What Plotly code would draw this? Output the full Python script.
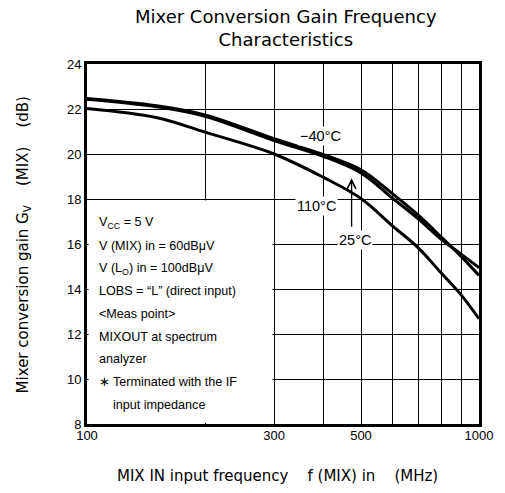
import plotly.graph_objects as go

# ---- data ----
freq_mhz = [100, 150, 200, 300, 400, 500, 600, 700, 800, 900, 1000]
gain_m40 = [22.47, 22.15, 21.74, 20.68, 19.98, 19.3, 18.25, 17.28, 16.32, 15.45, 14.6]
gain_25 = [22.43, 22.1, 21.68, 20.6, 19.9, 19.16, 18.05, 17.12, 16.22, 15.55, 14.95]
gain_110 = [22.02, 21.62, 20.97, 20.0, 18.97, 18.02, 16.82, 15.83, 14.72, 13.74, 12.68]

series_names = ["−40°C", "25°C", "110°C"]

x_tickvals = [100, 200, 300, 400, 500, 600, 700, 800, 900, 1000]
x_ticktext = ["100", "", "300", "", "500", "", "", "", "", "1000"]
y_tickvals = [8, 10, 12, 14, 16, 18, 20, 22, 24]

info_lines = [
    "V<sub>CC</sub> = 5 V",
    "V (MIX) in = 60dBμV",
    "V (L<sub>O</sub>) in = 100dBμV",
    "LOBS = “L” (direct input)",
    "&lt;Meas point&gt;",
    "MIXOUT at spectrum",
    "analyzer",
    "∗",
    "input impedance",
]
star_line = "Terminated with the IF"

title_text = "Mixer Conversion Gain Frequency<br>Characteristics"
GAP = "\u00a0" * 4
x_title = "MIX IN input frequency" + GAP + "f (MIX) in" + GAP + "(MHz)"
y_title = "Mixer conversion gain G<sub>V</sub>" + GAP + "(MIX)" + GAP + "(dB)"

FONT = "Liberation Sans, Arial, Helvetica, sans-serif"
WIDE = "DejaVu Sans, Liberation Sans, sans-serif"

fig = go.Figure()
for name, ys in zip(series_names, [gain_m40, gain_25, gain_110]):
    fig.add_trace(go.Scatter(
        x=freq_mhz, y=ys, name=name, mode="lines",
        line=dict(color="black", width=3, shape="spline", smoothing=1.0),
        showlegend=False, hoverinfo="skip",
    ))

# white panel behind the condition text (hides grid)
fig.add_shape(type="rect", xref="paper", yref="y", x0=0.004, x1=0.473, y0=8.05, y1=17.93,
              fillcolor="white", line=dict(width=0), layer="above")

annotations = []
# condition text lines
y0 = 16.93
step = 1.01
for i, t in enumerate(info_lines):
    xp = 0.0258
    if t == "input impedance":
        xp = 0.0618
    annotations.append(dict(x=xp, y=y0 - i * step, xref="paper", yref="y", text=t,
                            showarrow=False, xanchor="left", yanchor="middle",
                            font=dict(size=12.6, color="black", family=FONT)))
annotations.append(dict(x=0.0618, y=y0 - 7 * step, xref="paper", yref="y", text=star_line,
                        showarrow=False, xanchor="left", yanchor="middle",
                        font=dict(size=12.6, color="black", family=FONT)))

# temperature labels
label_pos = {"−40°C": (0.595, 20.79), "110°C": (0.585, 17.69), "25°C": (0.6825, 16.16)}
for name in series_names:
    xp, yv = label_pos[name]
    annotations.append(dict(x=xp, y=yv, xref="paper", yref="y", text=name, showarrow=False,
                            xanchor="center", yanchor="middle", bgcolor="white", borderpad=1,
                            font=dict(size=14.5, color="black", family=FONT)))
# arrow to 25°C curve
annotations.append(dict(x=0.675, y=18.92, xref="paper", yref="y", text="", showarrow=True,
                        ax=0, ay=50, arrowhead=5, arrowsize=1.3, arrowwidth=1.3,
                        arrowcolor="black"))

# title and axis titles
annotations.append(dict(x=0.5075, y=1.1, xref="paper", yref="paper", text=title_text,
                        showarrow=False, xanchor="center", yanchor="middle",
                        font=dict(size=18, color="black", family=WIDE)))
annotations.append(dict(x=0.485, y=-0.1436, xref="paper", yref="paper", text=x_title,
                        showarrow=False, xanchor="center", yanchor="middle",
                        font=dict(size=15, color="black", family=WIDE)))
annotations.append(dict(x=-0.1625, y=0.497, xref="paper", yref="paper", text=y_title,
                        showarrow=False, xanchor="center", yanchor="middle", textangle=-90,
                        font=dict(size=15, color="black", family=WIDE)))

fig.update_layout(
    width=505, height=493, autosize=False,
    margin=dict(l=87, r=18, t=64, b=69, pad=0),
    paper_bgcolor="white", plot_bgcolor="white",
    font=dict(family=FONT, size=13, color="black"),
    annotations=annotations,
    xaxis=dict(type="log", range=[2, 3], tickvals=x_tickvals, ticktext=x_ticktext,
               showgrid=True, gridcolor="black", gridwidth=1.3, zeroline=False,
               showline=True, linecolor="black", linewidth=3, mirror=True, ticks="",
               ticklabelstandoff=-3,
               tickfont=dict(size=13, color="black", family=FONT)),
    yaxis=dict(range=[8, 24], tickvals=y_tickvals,
               showgrid=True, gridcolor="black", gridwidth=1.3, zeroline=False,
               showline=True, linecolor="black", linewidth=3, mirror=True, ticks="",
               tickfont=dict(size=13, color="black", family=FONT)),
)

fig.write_html("out.html", config={"displayModeBar": False},
               post_script="document.body.style.margin='0';")
